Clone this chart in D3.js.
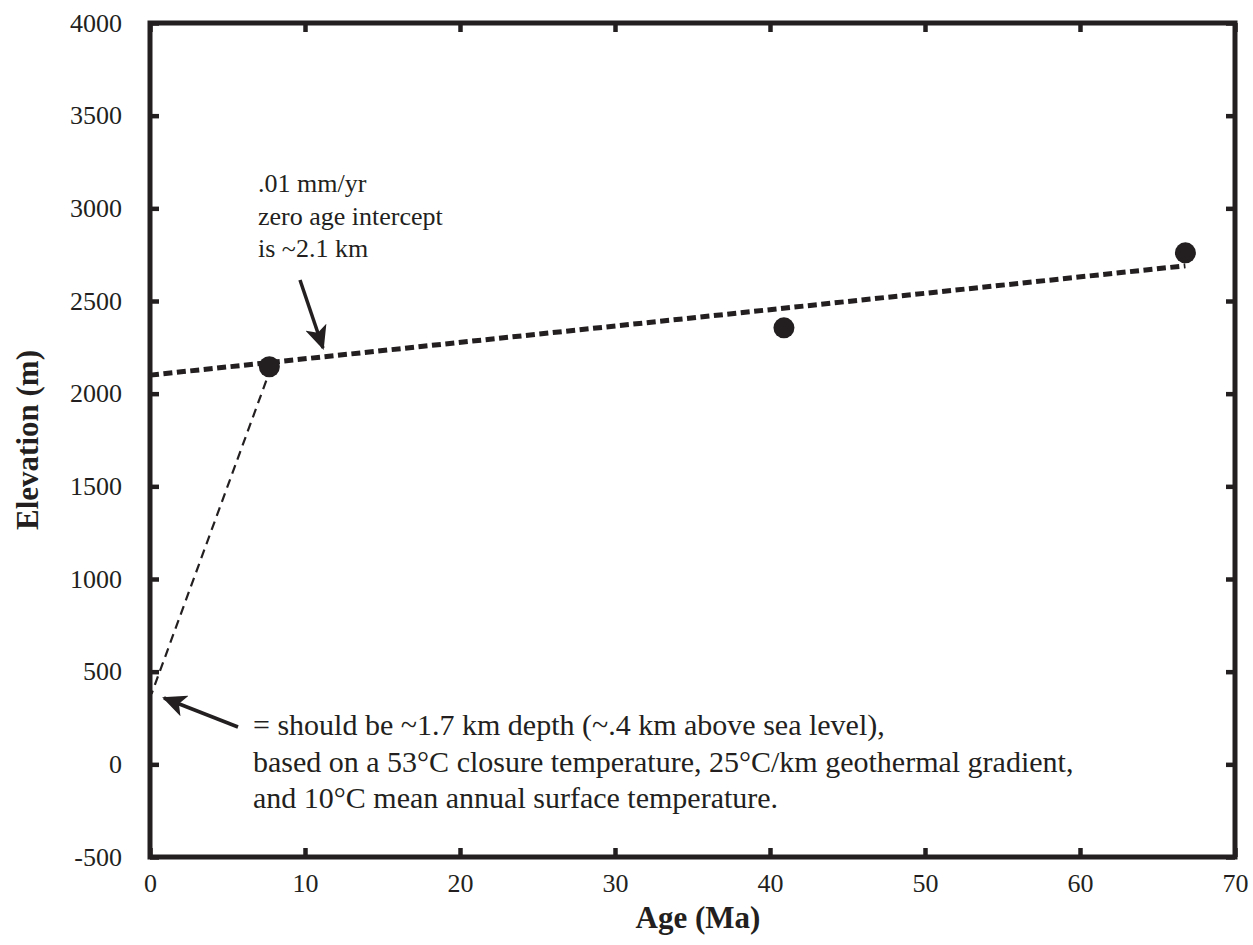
<!DOCTYPE html>
<html><head><meta charset="utf-8">
<script src="https://cdn.jsdelivr.net/npm/d3@7"></script>
<style>body{margin:0;background:#fff}svg{display:block}text{font-family:"Liberation Serif","Times New Roman",serif;fill:#231f20}</style>
</head><body>
<svg id="c" width="1253" height="945"></svg>
<script>
const ages = [7.7, 40.9, 66.8];
const elevations = [2145, 2355, 2760];
const fitLine = [[0, 2100], [66.8, 2690]];
const projLine = [[7.5, 2070], [0.1, 380]];
const xTicks = [0, 10, 20, 30, 40, 50, 60, 70];
const yTicks = [-500, 0, 500, 1000, 1500, 2000, 2500, 3000, 3500, 4000];
const noteTop = [".01 mm/yr", "zero age intercept", "is ~2.1 km"];
const noteBottom = ["= should be ~1.7 km depth (~.4 km above sea level),",
  "based on a 53°C closure temperature, 25°C/km geothermal gradient,",
  "and 10°C mean annual surface temperature."];
const xLabel = "Age (Ma)", yLabel = "Elevation (m)";

const col = "#231f20";
const svg = d3.select("#c");
const L = 150, R = 1235, T = 23, B = 857;
const x = d3.scaleLinear().domain([0, 70]).range([L, R]);
const y = d3.scaleLinear().domain([-500, 4000]).range([B, T]);

const tl = 9;
const g = svg.append("g");
g.append("g").attr("transform", `translate(0,${B})`).call(d3.axisBottom(x).tickValues(xTicks).tickSize(-tl).tickPadding(17).tickFormat(d => String(d)));
g.append("g").attr("transform", `translate(0,${T})`).call(d3.axisTop(x).tickValues(xTicks).tickSize(-tl).tickFormat(""));
g.append("g").attr("transform", `translate(${L},0)`).call(d3.axisLeft(y).tickValues(yTicks).tickSize(-tl).tickPadding(28).tickFormat(d => String(d)));
g.append("g").attr("transform", `translate(${R},0)`).call(d3.axisRight(y).tickValues(yTicks).tickSize(-tl).tickFormat(""));
g.selectAll(".domain").remove();
g.selectAll(".tick line").attr("stroke", col).attr("stroke-width", 4.5);
g.selectAll(".tick text").attr("font-size", 26).attr("font-family", "Liberation Serif").style("fill", col);

svg.append("rect").attr("x", L).attr("y", T).attr("width", R - L).attr("height", B - T)
  .attr("fill", "none").attr("stroke", col).attr("stroke-width", 5);

const line = d3.line().x(d => x(d[0])).y(d => y(d[1]));
svg.append("path").attr("d", line(fitLine)).attr("stroke", col).attr("stroke-width", 5)
  .attr("stroke-dasharray", "9,4.5").attr("fill", "none");
svg.append("path").attr("d", line(projLine)).attr("stroke", col).attr("stroke-width", 2.2)
  .attr("stroke-dasharray", "9,6").attr("fill", "none");

svg.selectAll("circle.pt").data(ages).join("circle").attr("class", "pt")
  .attr("cx", d => x(d)).attr("cy", (d, i) => y(elevations[i])).attr("r", 10.5).attr("fill", col);

svg.append("defs").append("marker").attr("id", "ah").attr("viewBox", "0 0 24 22")
  .attr("refX", 22).attr("refY", 11).attr("markerWidth", 24).attr("markerHeight", 22)
  .attr("markerUnits", "userSpaceOnUse").attr("orient", "auto")
  .append("path").attr("d", "M0,0 L24,11 L0,22 L6,11 Z").attr("fill", col);
svg.append("line").attr("x1", 300).attr("y1", 280).attr("x2", 323).attr("y2", 348)
  .attr("stroke", col).attr("stroke-width", 3.5).attr("marker-end", "url(#ah)");
svg.append("line").attr("x1", 238).attr("y1", 727).attr("x2", 164).attr("y2", 698)
  .attr("stroke", col).attr("stroke-width", 3.5).attr("marker-end", "url(#ah)");

svg.append("g").selectAll("text").data(noteTop).join("text")
  .attr("x", 258).attr("y", (d, i) => 192 + i * 32.5).attr("font-size", 26).text(d => d);
svg.append("g").selectAll("text").data(noteBottom).join("text")
  .attr("x", 253).attr("y", (d, i) => 735 + i * 36.5).attr("font-size", 30).text(d => d);

svg.append("text").attr("x", 698).attr("y", 928).attr("text-anchor", "middle")
  .attr("font-size", 31).attr("font-weight", "bold").text(xLabel);
svg.append("text").attr("transform", `translate(38,${(T + B) / 2}) rotate(-90)`).attr("text-anchor", "middle")
  .attr("font-size", 31).attr("font-weight", "bold").text(yLabel);
</script>
</body></html>
